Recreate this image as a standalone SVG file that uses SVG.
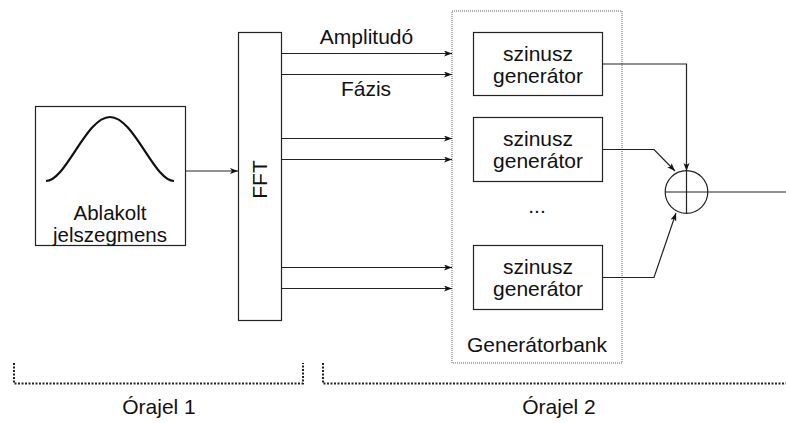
<svg xmlns="http://www.w3.org/2000/svg" width="786" height="423" viewBox="0 0 786 423">
  <style>
    text { font-family: "Liberation Sans", Arial, sans-serif; font-size: 21px; fill: #111; }
    .box { fill: #fff; stroke: #222; stroke-width: 1.2; }
    .wire { fill: none; stroke: #222; stroke-width: 1.2; }
    .arr { marker-end: url(#ah); }
    .bank { fill: none; stroke: #666; stroke-width: 1; stroke-dasharray: 1 1; }
    .brace { fill: none; stroke: #222; stroke-width: 2; stroke-dasharray: 2 1.5; }
    .mid { text-anchor: middle; }
  </style>
  <defs>
    <marker id="ah" markerUnits="userSpaceOnUse" markerWidth="10" markerHeight="8" refX="8" refY="3" orient="auto">
      <path d="M0,0 L8,3 L0,6 L2,3 Z" fill="#111"/>
    </marker>
  </defs>

  <g id="generatorbank">
    <rect class="bank" x="452" y="11" width="170" height="352"/>
    <text class="mid" x="537" y="352">Generátorbank</text>
    <text class="mid" x="537" y="213">...</text>
  </g>

  <g id="window">
    <rect class="box" x="35.5" y="106.5" width="150" height="139"/>
    <path d="M46,181 C66,181 86,117 110,117 C134,117 154,181 174,181" fill="none" stroke="#111" stroke-width="2.2"/>
    <text class="mid" x="110" y="219.5" style="font-size:20.5px">Ablakolt</text>
    <text class="mid" x="110" y="241.5" style="font-size:20.5px">jelszegmens</text>
  </g>

  <g id="fft">
    <rect class="box" x="238.5" y="32.5" width="43" height="288"/>
    <text class="mid" transform="translate(267,179.5) rotate(-90)">FFT</text>
  </g>

  <g id="gen1">
    <rect class="box" x="473.5" y="32.5" width="129" height="63"/>
    <text class="mid" x="538" y="60.5">szinusz</text>
    <text class="mid" x="538" y="82.5">generátor</text>
  </g>
  <g id="gen2">
    <rect class="box" x="473.5" y="117.5" width="129" height="64"/>
    <text class="mid" x="538" y="145.5">szinusz</text>
    <text class="mid" x="538" y="167.5">generátor</text>
  </g>
  <g id="gen3">
    <rect class="box" x="473.5" y="245.5" width="129" height="64"/>
    <text class="mid" x="538" y="274">szinusz</text>
    <text class="mid" x="538" y="296">generátor</text>
  </g>

  <g id="sum">
    <circle cx="686.5" cy="192" r="21.3" fill="#fff" stroke="#222" stroke-width="1.2"/>
    <path class="wire" d="M686.5,171 V213"/>
  </g>

  <g id="connectors">
    <path class="wire arr" d="M185.5,171 H238"/>
    <path class="wire arr" d="M281.5,53.5 H452"/>
    <path class="wire arr" d="M281.5,74.5 H452"/>
    <path class="wire arr" d="M281.5,138.5 H452"/>
    <path class="wire arr" d="M281.5,159.5 H452"/>
    <path class="wire arr" d="M281.5,267.5 H452"/>
    <path class="wire arr" d="M281.5,288.5 H452"/>
    <path class="wire arr" d="M602.5,64 H686.5 V171"/>
    <path class="wire arr" d="M602.5,149.5 H654 L675,171"/>
    <path class="wire arr" d="M602.5,277.5 H654 L676,213"/>
    <path class="wire" d="M665,192 H786"/>
  </g>

  <g id="labels">
    <text class="mid" x="366.5" y="44">Amplitudó</text>
    <text class="mid" x="366" y="96">Fázis</text>
  </g>

  <g id="clocks">
    <path class="brace" d="M14,363 V383.5 H303 V363"/>
    <path class="brace" d="M323,363 V383.5 H786"/>
    <text class="mid" x="159" y="414">Órajel 1</text>
    <text class="mid" x="559" y="414">Órajel 2</text>
  </g>
</svg>
